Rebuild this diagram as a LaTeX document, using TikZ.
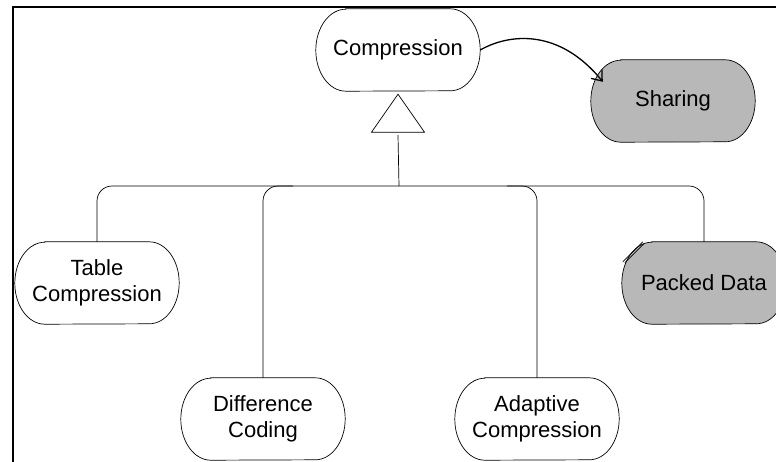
\documentclass[tikz,border=0pt]{standalone}
\usepackage{fontspec}
\setmainfont{Liberation Sans}
\usetikzlibrary{arrows.meta}
\pgfdeclarelayer{bg}
\pgfsetlayers{bg,main}
\definecolor{capgray}{RGB}{184,184,184}
\tikzset{
  capbox/.style={minimum width=164pt, minimum height=82pt, inner sep=0pt, align=center, font=\fontsize{22}{25.5}\selectfont},
  capline/.style={draw=black, line width=0.7pt},
  conn/.style={line width=0.7pt, rounded corners=15pt},
  framel/.style={line width=2pt},
  assoc/.style={line width=1.3pt, -{Straight Barb[length=9pt,width=14pt]}},
}
\newcommand\capsule[4]{%
  \node[capbox] (#1) at (#2) {#4};
  \begin{pgfonlayer}{bg}
    \filldraw[capline, fill=#3] ([xshift=30pt]#1.north west) -- ([xshift=-30pt]#1.north east)
      arc[start angle=90,end angle=-90,x radius=30pt,y radius=41pt]
      -- ([xshift=30pt]#1.south west)
      arc[start angle=270,end angle=90,x radius=30pt,y radius=41pt] -- cycle;
  \end{pgfonlayer}}
\begin{document}
\begin{tikzpicture}[x=1pt,y=-1pt]
\clip (0,0) rectangle (776,461);
\begin{pgfonlayer}{bg}
\fill[white] (0,0) rectangle (776,461);
\end{pgfonlayer}
% frame
\coordinate (fbl) at (12.5,462);
\coordinate (ftl) at (12.5,6.5);
\coordinate (ftr) at (777,6.5);
\draw[framel] (fbl) -- (ftl) -- (ftr);
% nodes
\capsule{comp}{398,50}{white}{Compression}
\capsule{share}{673,101}{capgray}{Sharing}
\capsule{table}{97,283}{white}{Table\\Compression}
\capsule{diff}{263,419}{white}{Difference\\Coding}
\capsule{adapt}{537,419}{white}{Adaptive\\Compression}
\capsule{packed}{704,283}{capgray}{Packed Data}
% generalization triangle
\coordinate (apex) at ([yshift=-3pt]comp.south);
\draw[capline] (apex) -- ++(26.5,38) -- ++(-53,0) -- cycle;
\coordinate (tribase) at ([yshift=-41pt]apex);
\coordinate (bus) at (399,186);
\draw[conn] (tribase) -- (bus);
\draw[conn] (table.north) -- (table.north |- bus) -- (packed.north |- bus) -- (packed.north);
\draw[conn] ([xshift=30pt]diff.north |- bus) -- (diff.north |- bus) -- (diff.north);
\draw[conn] ([xshift=-30pt]adapt.north |- bus) -- (adapt.north |- bus) -- (adapt.north);
% association arrow
\coordinate (shareIn) at ([xshift=12pt,yshift=-22pt]share.north west);
\draw[assoc] (comp.east) .. controls ([xshift=30pt,yshift=17pt]comp.east) and ([xshift=-43pt,yshift=53pt]shareIn) .. (shareIn);
% double tick mark on Packed Data
\coordinate (tk1) at ([xshift=1pt,yshift=-20pt]packed.north west);
\coordinate (tk2) at ([xshift=21pt]packed.north west);
\draw[line width=0.6pt] (tk1) -- (tk2);
\draw[line width=0.6pt] ([xshift=2pt,yshift=-1pt]tk1) -- ([xshift=1pt,yshift=-2pt]tk2);
\end{tikzpicture}
\end{document}
